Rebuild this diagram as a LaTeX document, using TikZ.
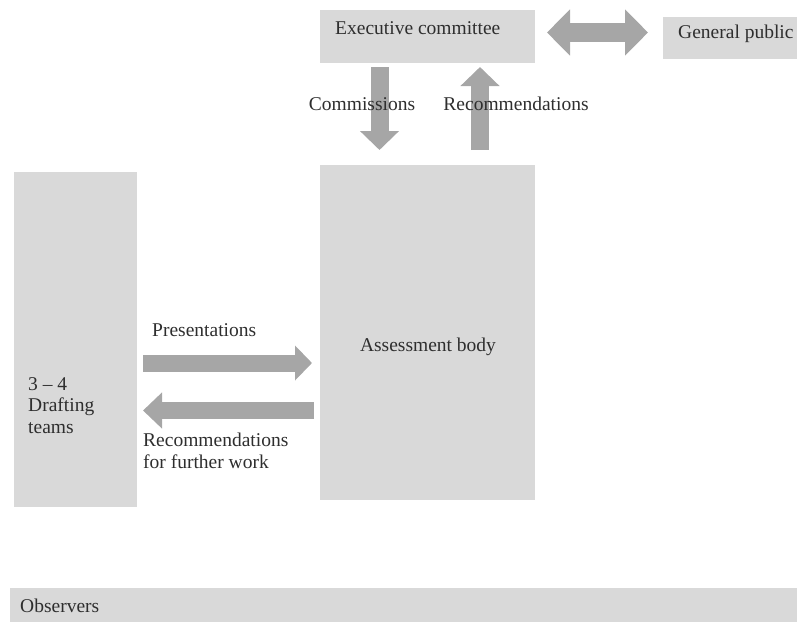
\documentclass[tikz,border=0pt]{standalone}
\usepackage{fontspec}
\setmainfont{Liberation Serif}
\usetikzlibrary{arrows.meta}
\definecolor{boxgray}{HTML}{D9D9D9}
\definecolor{arrgray}{HTML}{A6A6A6}
\definecolor{txtgray}{HTML}{2E2E2E}
\begin{document}
\begin{tikzpicture}[x=1pt,y=-1pt,
  box/.style={fill=boxgray,draw=none,inner sep=0pt,anchor=north west},
  lbl/.style={text=txtgray,inner sep=0pt,font=\fontsize{19.5}{21.5}\selectfont},
  blk/.style={draw=arrgray,line width=18pt,-{Triangle[length=19pt,width=38pt]}},
  dblk/.style={draw=arrgray,line width=19pt,{Triangle[length=23pt,width=45pt]}-{Triangle[length=23pt,width=45pt]}}
]
\useasboundingbox (0,0) rectangle (800,622);
% boxes
\node[box,minimum width=215pt,minimum height=53pt] (exec) at (320,10) {};
\node[box,minimum width=134pt,minimum height=42pt] (gp) at (663,17) {};
\node[box,minimum width=123pt,minimum height=335pt] (draft) at (14,172) {};
\node[box,minimum width=215pt,minimum height=335pt] (assess) at (320,165) {};
\node[box,minimum width=787pt,minimum height=34pt] (obs) at (10,588) {};
% endpoints
\coordinate (dblL) at (547,32.5);
\coordinate (dblR) at (648,32.5);
\coordinate (cmT) at (379.5,67);
\coordinate (cmB) at (379.5,150);
\coordinate (rcB) at (480,150);
\coordinate (rcT) at (480,67);
\coordinate (prL) at (143,363);
\coordinate (prR) at (312,363);
\coordinate (rwR) at (314,410.5);
\coordinate (rwL) at (143,410.5);
% arrows
\draw[dblk] (dblL) -- (dblR);
\draw[blk] (cmT) -- (cmB);
\draw[blk] (rcB) -- (rcT);
\draw[blk,line width=17pt,-{Triangle[length=17pt,width=34pt]}] (prL) -- (prR);
\draw[blk,line width=17pt,-{Triangle[length=19pt,width=35pt]}] (rwR) -- (rwL);
% texts
\node[lbl,anchor=west] (exect) at (335,28) {Executive committee};
\node[lbl,anchor=west] (gpt) at (678,34) {General public};
\node[lbl] (cmt) at (362,104) {Commissions};
\node[lbl] (rct) at (516,104) {Recommendations};
\node[lbl,anchor=west] (prt) at (152,330) {Presentations};
\node[lbl] (asst) at (428,347) {Assessment body};
\node[lbl,anchor=north west,align=left] (drt) at (28,377) {3 -- 4\\Drafting\\teams};
\node[lbl,anchor=north west,align=left] (rwt) at (143,433) {Recommendations\\for further work};
\node[lbl,anchor=west] (obst) at (20,606) {Observers};
\end{tikzpicture}
\end{document}
